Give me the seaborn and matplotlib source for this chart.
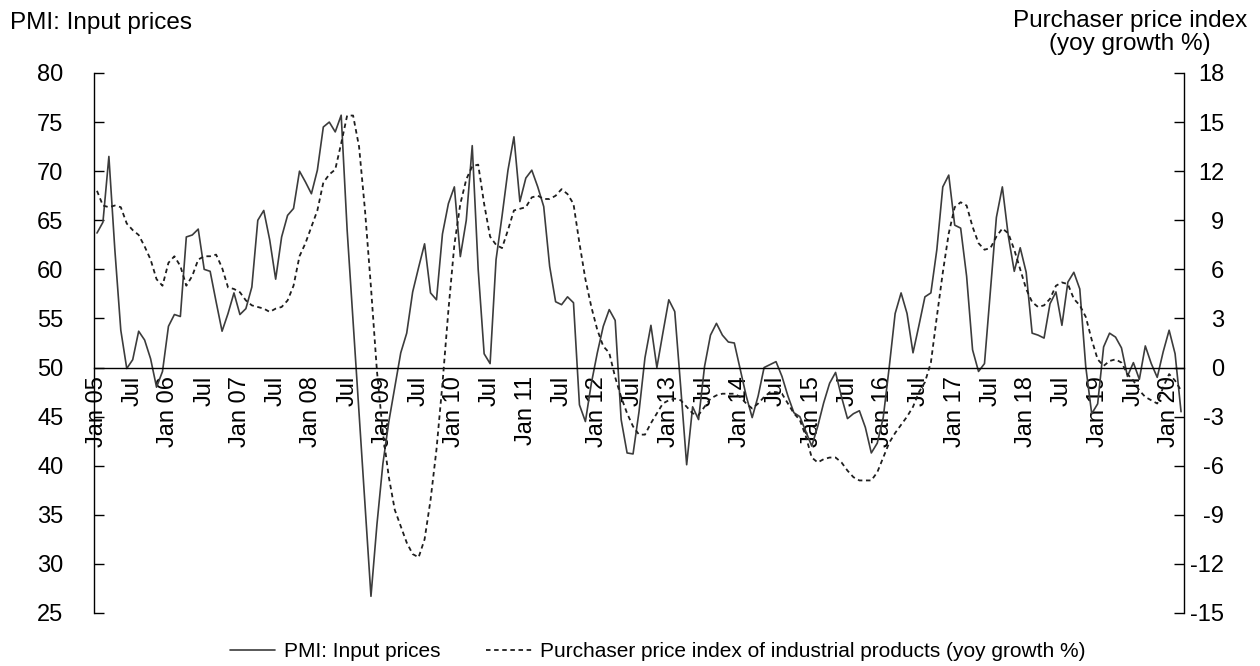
import matplotlib
matplotlib.use("Agg")
import matplotlib.pyplot as plt
import numpy as np
import pandas as pd
import seaborn as sns

# PMI: input prices (index), monthly Jan 2005 - Mar 2020
pmi_input = [
    63.7, 64.8, 71.5, 62.0, 53.8, 49.9, 50.8, 53.7, 52.8, 50.9, 48.0, 49.6,  # 2005
    54.2, 55.4, 55.2, 63.3, 63.5, 64.1, 60.0, 59.8, 56.7, 53.7, 55.5, 57.6,  # 2006
    55.4, 56.0, 58.2, 65.0, 66.0, 63.0, 59.0, 63.3, 65.5, 66.2, 70.0, 68.9,  # 2007
    67.7, 70.1, 74.5, 75.0, 74.0, 75.7, 64.0, 54.7, 45.4, 36.0, 26.7, 34.0,  # 2008
    40.2, 44.5, 48.0, 51.5, 53.5, 57.7, 60.2, 62.6, 57.6, 56.9, 63.6, 66.7,  # 2009
    68.4, 61.3, 65.0, 72.6, 60.0, 51.4, 50.4, 61.0, 65.4, 70.1, 73.5, 66.9,  # 2010
    69.3, 70.1, 68.4, 66.4, 60.3, 56.7, 56.4, 57.2, 56.6, 46.2, 44.5, 48.4,  # 2011
    51.5, 54.2, 55.9, 54.8, 44.7, 41.3, 41.2, 45.5, 51.0, 54.3, 50.0, 53.5,  # 2012
    56.9, 55.7, 48.0, 40.1, 46.0, 44.7, 50.1, 53.3, 54.5, 53.3, 52.6, 52.5,  # 2013
    49.8, 47.1, 44.9, 47.1, 50.0, 50.3, 50.6, 49.1, 47.1, 45.4, 45.0, 43.5,  # 2014
    42.0, 44.0, 46.4, 48.4, 49.5, 47.0, 44.8, 45.3, 45.6, 43.9, 41.3, 42.3,  # 2015
    44.9, 50.0, 55.5, 57.6, 55.5, 51.5, 54.3, 57.2, 57.6, 62.0, 68.4, 69.6,  # 2016
    64.5, 64.2, 59.3, 51.8, 49.6, 50.4, 57.9, 65.3, 68.4, 63.4, 59.8, 62.2,  # 2017
    59.7, 53.5, 53.3, 53.0, 56.5, 57.7, 54.3, 58.7, 59.7, 58.0, 50.1, 45.3,  # 2018
    46.3, 52.1, 53.5, 53.1, 52.0, 49.1, 50.5, 48.8, 52.2, 50.4, 49.0, 51.6,  # 2019
    53.8, 51.4, 45.5,                                                        # 2020
]

# Purchaser price index of industrial products (yoy growth %)
ppi_purchaser = [
    10.8, 9.9, 9.8, 9.9, 9.8, 8.8, 8.4, 8.1, 7.4, 6.6, 5.4, 5.0,
    6.4, 6.8, 6.2, 5.0, 5.6, 6.6, 6.8, 6.8, 6.9, 6.1, 4.9, 4.8,
    4.6, 4.1, 3.8, 3.7, 3.6, 3.4, 3.6, 3.7, 4.1, 5.0, 6.8, 7.6,
    8.6, 9.6, 11.3, 11.8, 12.1, 13.7, 15.4, 15.4, 13.5, 9.6, 4.9, -0.2,
    -4.0, -6.7, -8.7, -9.7, -10.7, -11.4, -11.6, -10.5, -8.1, -5.0, -1.0, 3.5,
    7.5, 10.0, 11.5, 12.3, 12.4, 10.0, 8.0, 7.5, 7.3, 8.4, 9.6, 9.7,
    9.8, 10.4, 10.5, 10.3, 10.3, 10.5, 10.9, 10.6, 10.0, 7.6, 5.4, 3.7,
    2.3, 1.3, 0.9, -0.6, -1.8, -2.8, -3.6, -4.1, -4.1, -3.4, -2.8, -2.2,
    -2.0, -1.9, -2.0, -2.4, -2.8, -2.9, -2.4, -1.9, -1.7, -1.6, -1.6, -1.6,
    -1.8, -2.2, -2.5, -2.2, -1.8, -1.5, -1.5, -1.6, -2.2, -2.8, -3.2, -4.2,
    -5.5, -5.8, -5.6, -5.5, -5.5, -5.8, -6.3, -6.7, -6.9, -6.9, -6.9, -6.4,
    -5.5, -4.6, -4.0, -3.5, -3.0, -2.4, -1.5, -0.9, 0.3, 3.1, 5.8, 8.2,
    9.8, 10.1, 9.9, 8.6, 7.6, 7.2, 7.3, 8.0, 8.5, 8.2, 7.2, 6.0,
    4.8, 4.0, 3.7, 3.8, 4.2, 5.0, 5.2, 5.1, 4.2, 3.8, 3.1, 1.7,
    0.5, 0.1, 0.4, 0.5, 0.3, -0.4, -0.8, -1.4, -1.8, -2.0, -2.2, -1.2,
    -0.4, -0.8, -1.4,
]

dates = pd.date_range("2005-01-01", periods=len(pmi_input), freq="MS")
tick_labels = [d.strftime("Jan %y") if d.month == 1 else "Jul"
               for d in dates if d.month in (1, 7)]
tick_pos = [i for i, d in enumerate(dates) if d.month in (1, 7)]

df = pd.DataFrame({"t": np.arange(len(dates)),
                   "pmi": pmi_input,
                   "ppi": ppi_purchaser})

sns.set_style("white")
plt.rcParams["font.family"] = ["Liberation Sans", "DejaVu Sans"]
plt.rcParams["axes.unicode_minus"] = False
plt.rcParams["text.color"] = "black"

fig = plt.figure(figsize=(12.6, 6.66), dpi=100)
ax = fig.add_axes([0.0746, 0.0796, 0.8651, 0.8108])
ax2 = ax.twinx()

sns.lineplot(data=df, x="t", y="pmi", ax=ax, color="#3c3c3c", lw=1.2,
             label="PMI: Input prices", legend=False)
sns.lineplot(data=df, x="t", y="ppi", ax=ax2, color="#1e1e1e", lw=1.3,
             linestyle=(0, (2.5, 2)),
             label="Purchaser price index of industrial products (yoy growth %)",
             legend=False)

ax.set_xlim(-0.5, len(dates) - 0.5)
ax.set_ylim(25, 80)
ax2.set_ylim(-15, 18)
ax.set_yticks(range(25, 81, 5))
ax2.set_yticks(range(-15, 19, 3))
ax.set_xticks(tick_pos)
ax.set_xticklabels(tick_labels)
ax.set_xlabel("")
ax.set_ylabel("")
ax2.set_ylabel("")

# x axis sits on the 50 line
ax.spines["bottom"].set_position(("data", 50))
ax.spines["top"].set_visible(False)
ax.spines["right"].set_visible(False)
for s in ["top", "bottom", "left"]:
    ax2.spines[s].set_visible(False)
for s in ["left", "bottom"]:
    ax.spines[s].set_color("black")
    ax.spines[s].set_linewidth(1.0)
ax2.spines["right"].set_color("black")
ax2.spines["right"].set_linewidth(1.0)

ax.tick_params(axis="x", length=0, pad=6, labelsize=17, colors="black",
               labelrotation=90)
ax.tick_params(axis="y", direction="in", length=7, width=1, pad=22,
               labelsize=17, colors="black", left=True)
ax2.tick_params(axis="y", direction="in", length=7, width=1, pad=29,
                labelsize=17, colors="black", right=True)
for lab in ax2.get_yticklabels():
    lab.set_horizontalalignment("right")

fig.text(0.008, 0.966, "PMI: Input prices", fontsize=17.5, ha="left",
         va="center", color="black")
fig.text(0.897, 0.951, "Purchaser price index\n(yoy growth %)", fontsize=17.5,
         ha="center", va="center", multialignment="center", linespacing=1.1,
         color="black")

handles = ax.get_lines()[:1] + ax2.get_lines()[:1]
leg = fig.legend(handles, [h.get_label() for h in handles], loc="center",
                 bbox_to_anchor=(0.522, 0.022), ncol=2, frameon=False,
                 fontsize=15, handlelength=2.2, handletextpad=0.4,
                 columnspacing=2.2)
for txt in leg.get_texts():
    txt.set_color("black")

fig.savefig("out.png", dpi=100)
